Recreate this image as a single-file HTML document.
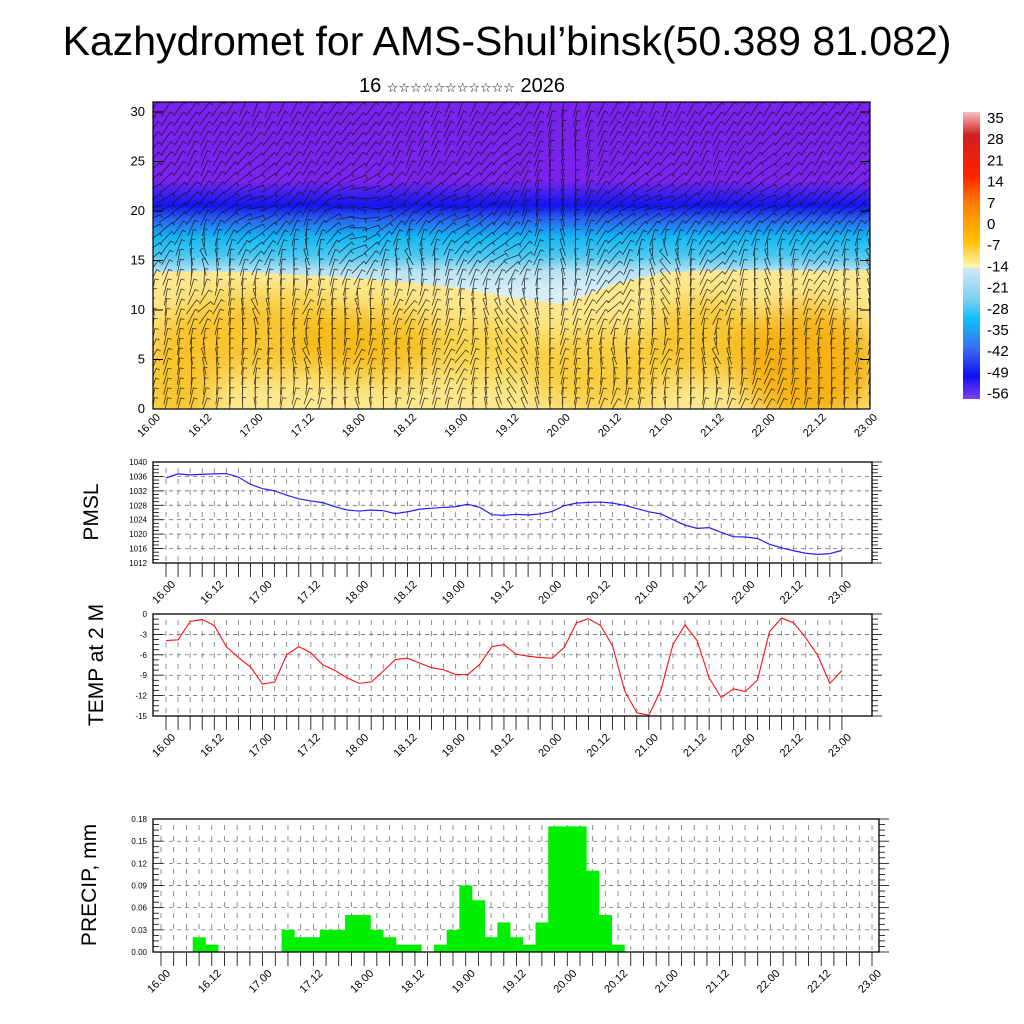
<!DOCTYPE html>
<html><head><meta charset="utf-8"><style>
html,body{margin:0;padding:0;background:#fff;}
svg{display:block;font-family:"Liberation Sans",sans-serif;}
</style></head><body>
<svg id="root" width="1024" height="1024" viewBox="0 0 1024 1024" xmlns="http://www.w3.org/2000/svg">
<defs>
<linearGradient id="upperGrad" x1="0" y1="0" x2="0" y2="1" gradientUnits="userSpaceOnUse">
</linearGradient>
<filter id="blur8"><feGaussianBlur stdDeviation="14"/></filter>
<clipPath id="topClip"><rect x="153" y="102" width="717" height="307"/></clipPath>
<linearGradient id="cbarGrad" x1="0" y1="0" x2="0" y2="1">
<stop offset="0" stop-color="#f8c0c0"/><stop offset="0.08" stop-color="#d02020"/><stop offset="0.22" stop-color="#ff2000"/><stop offset="0.32" stop-color="#ff8000"/><stop offset="0.45" stop-color="#ffc000"/><stop offset="0.54" stop-color="#fff6b0"/><stop offset="0.545" stop-color="#cde8f5"/><stop offset="0.65" stop-color="#80d0f0"/><stop offset="0.72" stop-color="#10c0f8"/><stop offset="0.82" stop-color="#3a70f0"/><stop offset="0.92" stop-color="#1010f0"/><stop offset="1" stop-color="#8040f0"/>
</linearGradient>
</defs>
<text x="507" y="55" font-size="41" text-anchor="middle">Kazhydromet for AMS-Shul’binsk(50.389 81.082)</text>
<text x="462" y="92" font-size="20" text-anchor="middle">16 <tspan font-size="13" font-family="DejaVu Sans,sans-serif">☆☆☆☆☆☆☆☆☆☆☆</tspan> 2026</text>

<g id="topPanel"></g>
<g>
<rect x="963" y="112" width="17" height="287" fill="url(#cbarGrad)"/>
<g id="cbarLabels" font-size="15"></g>
</g>
<g id="pmslPanel"></g>
<g id="tempPanel"></g>
<g id="precipPanel"></g>
<text transform="translate(98,512) rotate(-90)" font-size="21" text-anchor="middle">PMSL</text>
<text transform="translate(103,665) rotate(-90)" font-size="21" text-anchor="middle">TEMP at 2 M</text>
<text transform="translate(96,885) rotate(-90)" font-size="21" text-anchor="middle">PRECIP, mm</text>
</svg>
<script>
const timeLabels=["16.00","16.12","17.00","17.12","18.00","18.12","19.00","19.12","20.00","20.12","21.00","21.12","22.00","22.12","23.00"];
const pmsl=[1035.6,1036.7,1036.4,1036.6,1036.7,1036.8,1035.8,1033.8,1032.6,1032,1030.8,1029.8,1029.2,1028.7,1027.6,1026.7,1026.4,1026.7,1026.5,1025.7,1026.2,1026.9,1027.2,1027.4,1027.6,1028.3,1027.4,1025.4,1025.2,1025.5,1025.3,1025.6,1026.3,1027.9,1028.6,1028.8,1028.9,1028.6,1028,1027.1,1026.2,1025.6,1024,1022.5,1021.6,1021.8,1020.5,1019.3,1019.2,1018.8,1017.2,1016.2,1015.4,1014.7,1014.4,1014.6,1015.5];
const temp2m=[-3.9,-3.8,-1.1,-0.8,-1.7,-4.8,-6.4,-7.8,-10.3,-10,-6,-4.8,-5.7,-7.5,-8.3,-9.4,-10.2,-10,-8.4,-6.7,-6.5,-7.2,-7.9,-8.2,-8.9,-8.9,-7.4,-4.8,-4.5,-5.9,-6.2,-6.4,-6.5,-4.9,-1.3,-0.7,-1.7,-4.7,-11.3,-14.5,-14.9,-11.2,-4.5,-1.6,-3.9,-9.4,-12.3,-11,-11.4,-9.7,-2.6,-0.6,-1.3,-3.5,-6.1,-10.2,-8.3];
const precip=[0,0,0,0.02,0.01,0,0,0,0,0,0.03,0.02,0.02,0.03,0.03,0.05,0.05,0.03,0.02,0.01,0.01,0,0.01,0.03,0.09,0.07,0.02,0.04,0.02,0.01,0.04,0.17,0.17,0.17,0.11,0.05,0.01,0,0,0,0,0,0,0,0,0,0,0,0,0,0,0,0,0,0,0,0];
const pmslTicks=[1012,1016,1020,1024,1028,1032,1036,1040];
const tempTicks=[-15,-12,-9,-6,-3,0];
const precipTicks=[0,0.03,0.06,0.09,0.12,0.15,0.18];
const heightTicks=[0,5,10,15,20,25,30];
const cbarLabels=["35","28","21","14","7","0","-7","-14","-21","-28","-35","-42","-49","-56"];
const yellowTop=[13.8,13.9,13.8,13.5,13.2,12.8,12.2,11.2,10.6,12.6,13.8,14,14,14,14];
// bottom row first (surface) to top row (30 km)
const windDir=[
[80,70,100,60,110,70,80,120,90,60,100,70,60,80,90],
[60,110,70,120,60,100,50,130,70,110,60,120,70,100,70],
[100,40,120,60,110,50,90,130,80,40,120,50,110,60,100],
[40,120,50,110,30,120,60,20,110,50,130,40,110,50,120],
[20,50,10,60,-20,40,10,70,100,30,10,60,20,50,30],
[50,70,40,60,50,70,60,40,100,60,50,70,40,60,50],
[60,50,70,60,50,60,70,50,80,60,70,50,60,50,60]];
const NS="http://www.w3.org/2000/svg";
function mk(tag,attrs,parent){const e=document.createElementNS(NS,tag);for(const k in attrs)e.setAttribute(k,attrs[k]);parent.appendChild(e);return e;}

(function(){
const g=document.getElementById('topPanel');
const X0=153,X1=870,Y0=409,zs=9.9;
const xT=i=>X0+i*(X1-X0)/(yellowTop.length-1);
const yZ=z=>Y0-z*zs;
const cg=mk('g',{'clip-path':'url(#topClip)'},g);
const lg=document.getElementById('upperGrad');
lg.setAttribute('x1',0);lg.setAttribute('x2',0);lg.setAttribute('y1',yZ(31));lg.setAttribute('y2',yZ(12));
[[0,'#7a22ee'],[0.42,'#7a22ee'],[0.49,'#3a20f0'],[0.55,'#1414f0'],[0.62,'#2a60f0'],[0.72,'#14b8f4'],[0.82,'#50c8f0'],[0.9,'#b8e2f4'],[1,'#d8eef6']].forEach(s=>mk('stop',{offset:s[0],'stop-color':s[1]},lg));
const bg=mk('rect',{x:X0,y:102,width:X1-X0,height:307,fill:'url(#upperGrad)'},cg);


let d='M'+X0+','+Y0;
yellowTop.forEach((z,i)=>{d+=' L'+xT(i)+','+yZ(z);});
d+=' L'+X1+','+Y0+' Z';
const yp=mk('path',{d:d,fill:'#fde890'},cg);


const blobs=mk('g',{filter:'url(#blur8)'},cg);
[[2.2,7.5,110,40,'#f8c020'],[4.3,6.5,80,35,'#f6b810'],[8.7,4,70,40,'#f8c830'],[10.8,7,60,40,'#f6c020'],[12.8,4.5,70,60,'#f4a800'],[0.5,3,40,50,'#f8c020'],[6.5,6,60,30,'#f8d040']].forEach(b=>mk('ellipse',{cx:xT(b[0]),cy:yZ(b[1]),rx:b[2],ry:b[3],fill:b[4],opacity:0.85},blobs));
const wb=mk('g',{stroke:'#111','stroke-width':0.8,opacity:0.8,fill:'none'},cg);


const nc=57,nr=31,R=windDir.length;
for(let c=0;c<nc;c++){for(let r=0;r<nr;r++){
 const ft=c/4, fr=(r/30)*(R-1);
 const i0=Math.min(Math.floor(ft),13),j0=Math.min(Math.floor(fr),R-2);
 const tx=ft-i0,ty=fr-j0;
 const a=(windDir[j0][i0]*(1-tx)+windDir[j0][i0+1]*tx)*(1-ty)+(windDir[j0+1][i0]*(1-tx)+windDir[j0+1][i0+1]*tx)*ty;
 const rad=a*Math.PI/180,L=17;
 const cx=X0+c*(X1-X0)/(nc-1),cy=yZ(r+0.3);
 const dx=Math.cos(rad)*L/2,dy=-Math.sin(rad)*L/2;
 mk('path',{d:`M${cx-dx},${cy-dy} L${cx+dx},${cy+dy} l${-dy*0.45},${dx*0.45}`},wb);
}}
mk('rect',{x:X0,y:102,width:X1-X0,height:307,fill:'none',stroke:'#000','stroke-width':1.2},g);
heightTicks.forEach(v=>{
 mk('line',{x1:X0,x2:X0+10,y1:yZ(v),y2:yZ(v),stroke:'#000'},g);
 mk('line',{x1:X1-10,x2:X1,y1:yZ(v),y2:yZ(v),stroke:'#000'},g);
 const t=mk('text',{x:X0-8,y:yZ(v)+4,'font-size':13,'text-anchor':'end'},g);t.textContent=v;
 
 
});
timeLabels.forEach((s,i)=>{
 const x=X0+i*(X1-X0)/(timeLabels.length-1);
 const t=mk('text',{transform:`translate(${x+8},${418}) rotate(-45)`,'font-size':11,'text-anchor':'end'},g);t.textContent=s;
 
 
});
})();

(function(){const g=document.getElementById('cbarLabels');
cbarLabels.forEach((s,i)=>{const t=mk('text',{x:987,y:123+i*21.2},g);t.textContent=s;

});})();

function panel(gid,opt){
 const g=document.getElementById(gid);
 const {L,R,T,B,vmin,vmax,ticks,fmt,x0,dx,n}=opt;
 const yV=v=>B-(v-vmin)/(vmax-vmin)*(B-T);
 const xI=i=>x0+i*dx;
 const grid=mk('g',{stroke:'#555','stroke-width':0.7,'stroke-dasharray':'4,4'},g);
 ticks.forEach(v=>{if(v>vmin&&v<vmax)mk('line',{x1:L,x2:R,y1:yV(v),y2:yV(v)},grid);});
 const vg=mk('g',{stroke:'#777','stroke-width':0.8,'stroke-dasharray':'5,6'},g);
 for(let i=0;i<n;i++)mk('line',{x1:xI(i),x2:xI(i),y1:T+6,y2:B-2},vg);
 const mt=mk('g',{stroke:'#000','stroke-width':0.8},g);
 const step=(ticks[1]-ticks[0])/4;
 for(let v=vmin;v<=vmax+1e-9;v+=step){const y=yV(v);const maj=Math.abs((v-vmin)/(ticks[1]-ticks[0])-Math.round((v-vmin)/(ticks[1]-ticks[0])))<1e-6;
  mk('line',{x1:L,x2:L+(maj?10:6),y1:y,y2:y},mt);mk('line',{x1:R,x2:R+(maj?10:6),y1:y,y2:y},mt);}
 for(let i=0;i<n;i++)mk('line',{x1:xI(i),x2:xI(i),y1:B,y2:B+14},mt);
 ticks.forEach(v=>{const t=mk('text',{x:L-6,y:yV(v)+3,'font-size':8,'text-anchor':'end'},g);t.textContent=fmt(v);
  
  });
 timeLabels.forEach((s,k)=>{const x=xI(k*4);const t=mk('text',{transform:`translate(${x+10},${B+22}) rotate(-45)`,'font-size':11,'text-anchor':'end'},g);t.textContent=s;
  
  });
 return {g,yV,xI,box:()=>mk('rect',{x:L,y:T,width:R-L,height:B-T,fill:'none',stroke:'#000','stroke-width':1.3},g)};
}
(function(){
const p=panel('pmslPanel',{L:153,R:872,T:462,B:563,vmin:1012,vmax:1040,ticks:pmslTicks,fmt:v=>v,x0:166,dx:12.07,n:57});
const l=mk('polyline',{points:pmsl.map((v,i)=>p.xI(i)+','+p.yV(v)).join(' '),fill:'none',stroke:'#2020ff','stroke-width':1.2},p.g);


p.box();
})();
(function(){
const p=panel('tempPanel',{L:153,R:872,T:614,B:716,vmin:-15,vmax:0,ticks:tempTicks,fmt:v=>v,x0:166,dx:12.07,n:57});
const l=mk('polyline',{points:temp2m.map((v,i)=>p.xI(i)+','+p.yV(v)).join(' '),fill:'none',stroke:'#ff1010','stroke-width':1.1},p.g);


p.box();
})();
(function(){
const dx=(872-161)/56;
const p=panel('precipPanel',{L:153,R:879,T:819,B:952,vmin:0,vmax:0.18,ticks:precipTicks,fmt:v=>v.toFixed(2),x0:161,dx:dx,n:57});
const bg=mk('g',{fill:'#00ee00'},p.g);


precip.forEach((v,i)=>{if(v<=0)return;
 const b=mk('rect',{x:p.xI(i)-dx/2,y:p.yV(v),width:dx+0.3,height:p.yV(0)-p.yV(v)},bg);
 
 
});
p.box();
})();
</script>
</body></html>
